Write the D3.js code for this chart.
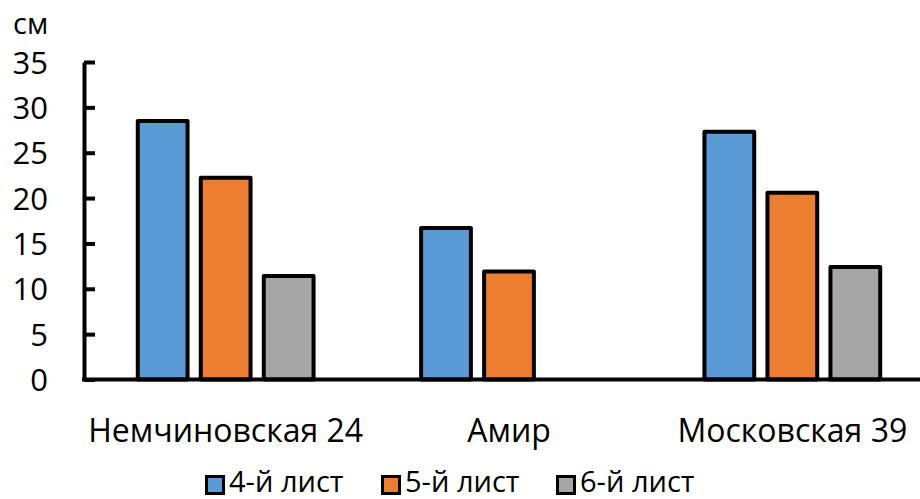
<!DOCTYPE html>
<html><head><meta charset="utf-8">
<script src="https://cdn.jsdelivr.net/npm/d3@7"></script>
<style>body{margin:0;background:#fff}svg{display:block}text{font-family:"Open Sans",sans-serif;fill:#000}</style>
</head><body><svg id="c" width="920" height="499"></svg>
<script>
const categories = ["Немчиновская 24", "Амир", "Московская 39"];
const seriesNames = ["4-й лист", "5-й лист", "6-й лист"];
const values4 = [28.5, 16.7, 27.3];
const values5 = [22.25, 11.9, 20.6];
const values6 = [11.4, null, 12.4];
const yTicks = [0, 5, 10, 15, 20, 25, 30, 35];
const colors = ["#5B9BD5", "#ED7D31", "#A5A5A5"];
const unitLabel = "см";

(function () {
const seriesValues = [values4, values5, values6];
const svg = d3.select("#c");
const mLeft = 84, mRight = 934, mTop = 62, mBottom = 379.5;

const y = d3.scaleLinear().domain([0, 35]).range([mBottom, mTop]);
const x0 = d3.scaleBand().domain(categories).range([mLeft, mRight]).padding(0);
const x1 = d3.scaleBand().domain(seriesNames).range([-94.5, 94.5]).padding(0);
const bw = x1.bandwidth() * 0.79;

seriesNames.forEach((s, si) => {
  const data = categories.map((c, ci) => ({c, v: seriesValues[si][ci]})).filter(d => d.v != null);
  svg.append("g").selectAll("rect").data(data).join("rect")
    .attr("x", d => x0(d.c) + x0.bandwidth() / 2 + x1(s) + (x1.bandwidth() - bw) / 2)
    .attr("y", d => y(d.v))
    .attr("width", bw)
    .attr("height", d => y(0) - y(d.v))
    .attr("fill", colors[si])
    .attr("stroke", "#000")
    .attr("stroke-width", 4)
    .attr("stroke-linejoin", "round");
});

const yAxis = d3.axisLeft(y).tickValues(yTicks).tickSize(-11).tickPadding(0).tickSizeOuter(0);
const gy = svg.append("g").attr("transform", `translate(${mLeft},0)`).call(yAxis);
gy.select(".domain").attr("stroke", "#000").attr("stroke-width", 4);
gy.selectAll(".tick line").attr("stroke", "#000").attr("stroke-width", 4);
gy.selectAll(".tick text").attr("x", -36).attr("dy", "0.36em")
  .style("font-size", "31px").attr("text-anchor", "end").attr("fill", "#000");

const xAxis = d3.axisBottom(x0).tickSize(0).tickPadding(0).tickSizeOuter(0);
const gx = svg.append("g").attr("transform", `translate(0,${mBottom})`).call(xAxis);
gx.select(".domain").attr("stroke", "#000").attr("stroke-width", 4).attr("d", `M${mLeft - 2},0H${mRight}`);
gx.selectAll(".tick text").attr("y", 62.5).attr("dy", 0).style("font-size", "32px").attr("fill", "#000");

svg.append("text").attr("x", 13).attr("y", 34).style("font-size", "29px").text(unitLabel);

const legendX = [205, 381, 556];
const lg = svg.append("g");
seriesNames.forEach((s, i) => {
  lg.append("rect").attr("x", legendX[i] + 1.5).attr("y", 476.5).attr("width", 17).attr("height", 17)
    .attr("fill", colors[i]).attr("stroke", "#000").attr("stroke-width", 3);
  lg.append("text").attr("x", legendX[i] + 24).attr("y", 492).style("font-size", "29px").text(s);
});
})();
</script></body></html>
